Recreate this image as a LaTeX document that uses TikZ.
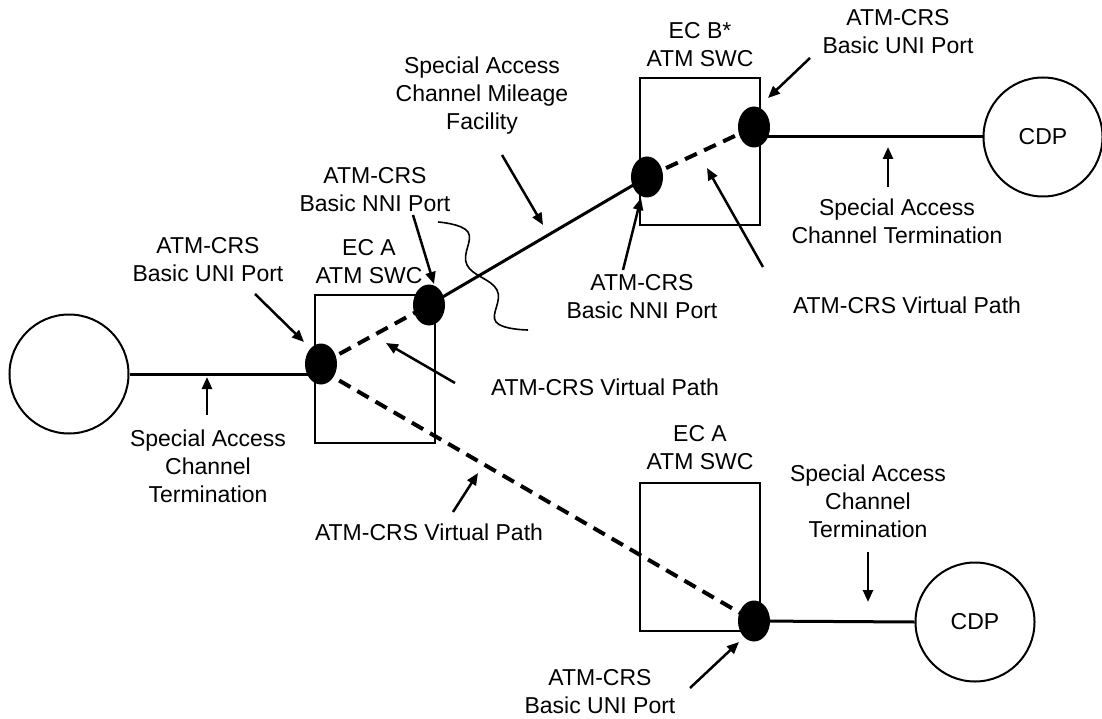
\documentclass[tikz,border=0pt]{standalone}
\usepackage{fontspec}
\setmainfont{Liberation Sans}
\usetikzlibrary{shapes.geometric,arrows.meta,backgrounds}
\begin{document}
\begin{tikzpicture}[x=1pt,y=-1pt,
 lbl/.style={align=center,inner sep=0pt,font=\fontsize{23}{28}\selectfont},
 portdot/.style={ellipse,fill=black,inner sep=0pt,minimum width=32pt,minimum height=41pt},
 swc/.style={draw,line width=2pt,inner sep=0pt,minimum width=120pt,minimum height=148pt},
 cdp/.style={circle,draw,line width=2pt,inner sep=0pt,minimum size=119pt,font=\fontsize{23}{28}\selectfont},
 link/.style={line width=3pt},
 vpath/.style={line width=4pt,dash pattern=on 13pt off 8pt},
 wave/.style={line width=1.6pt},
 ptr/.style={line width=2.5pt,-{Triangle[length=12pt,width=10pt]}}]
\useasboundingbox (0,0) rectangle (1102,719);

% shapes
\node[cdp] (c1) at (69,374) {};
\node[cdp] (c2) at (1043,137) {CDP};
\node[cdp] (c3) at (975,622) {CDP};
\node[swc] (b1) at (375,369) {};
\node[swc,minimum height=147pt] (b2) at (700,151.5) {};
\node[swc] (b3) at (700,557) {};
\node[portdot] (d1) at (321,364) {};
\node[portdot] (d2) at (429,305) {};
\node[portdot] (d3) at (647,177) {};
\node[portdot] (d4) at (754,127) {};
\node[portdot] (d5) at (754,621) {};

% connections (behind the port dots)
\begin{scope}[on background layer]
\fill[white] (0,0) rectangle (1102,719);
\draw[link] (c1.east) -- (d1 |- c1);
\draw[vpath] (d1.center) -- (d2.center);
\draw[vpath] ([yshift=-6pt]d1.center) -- (d5.center);
\draw[link] (d2.center) -- (d3.center);
\draw[vpath] (d3.center) -- (d4.center);
\draw[link] (d4 |- c2) -- (c2.west);
\draw[link] (d5.center) -- (c3.west);
\end{scope}

% wavy break line
\draw[wave] plot[smooth,tension=0.7] coordinates {(438,222) (468,232) (467,265) (497,290) (496,322) (528,330)};

% labels
\node[lbl] (lUNIa) at (208,260) {ATM-CRS\\Basic UNI Port};
\node[lbl] (lSACa) at (208,466) {Special Access\\Channel\\Termination};
\node[lbl] (lECA1) at (369,262) {EC A\\ATM SWC};
\node[lbl] (lNNIa) at (375,190) {ATM-CRS\\Basic NNI Port};
\node[lbl] (lMil) at (482,96) {Special Access\\Channel Mileage\\Facility};
\node[lbl] (lECB) at (700,45) {EC B*\\ATM SWC};
\node[lbl] (lUNIb) at (898,32) {ATM-CRS\\Basic UNI Port};
\node[lbl] (lSACb) at (897,221) {Special Access\\Channel Termination};
\node[lbl] (lNNIb) at (642,297) {ATM-CRS\\Basic NNI Port};
\node[lbl] (lVPb) at (907,305) {ATM-CRS Virtual Path};
\node[lbl] (lVPa) at (605,387) {ATM-CRS Virtual Path};
\node[lbl] (lVPc) at (429,532) {ATM-CRS Virtual Path};
\node[lbl] (lECA2) at (700,448) {EC A\\ATM SWC};
\node[lbl] (lSACc) at (868,501) {Special Access\\Channel\\Termination};
\node[lbl] (lUNIc) at (600,692) {ATM-CRS\\Basic UNI Port};

% pointer arrows
\coordinate (tUNIa) at (255,294); \coordinate (hUNIa) at (304,342);
\coordinate (tSACa) at (207,415); \coordinate (hSACa) at (207,377);
\coordinate (tNNIa) at (413,215); \coordinate (hNNIa) at (434,284);
\coordinate (tMil) at (502,155);  \coordinate (hMil) at (543,225);
\coordinate (tVPa) at (455,383);  \coordinate (hVPa) at (386,343);
\coordinate (tVPc) at (453,512);  \coordinate (hVPc) at (478,473);
\coordinate (tUNIb) at (810,58);  \coordinate (hUNIb) at (768,98);
\coordinate (tSACb) at (888,187); \coordinate (hSACb) at (888,147);
\coordinate (tNNIb) at (623,270); \coordinate (hNNIb) at (641,198);
\coordinate (tVPb) at (763,267);  \coordinate (hVPb) at (707,168);
\coordinate (tSACc) at (868,552); \coordinate (hSACc) at (868,602);
\coordinate (tUNIc) at (690,688); \coordinate (hUNIc) at (739,642);
\foreach \n in {UNIa,SACa,NNIa,Mil,VPa,VPc,UNIb,SACb,NNIb,VPb,SACc,UNIc}
  \draw[ptr] (t\n) -- (h\n);
\end{tikzpicture}
\end{document}
